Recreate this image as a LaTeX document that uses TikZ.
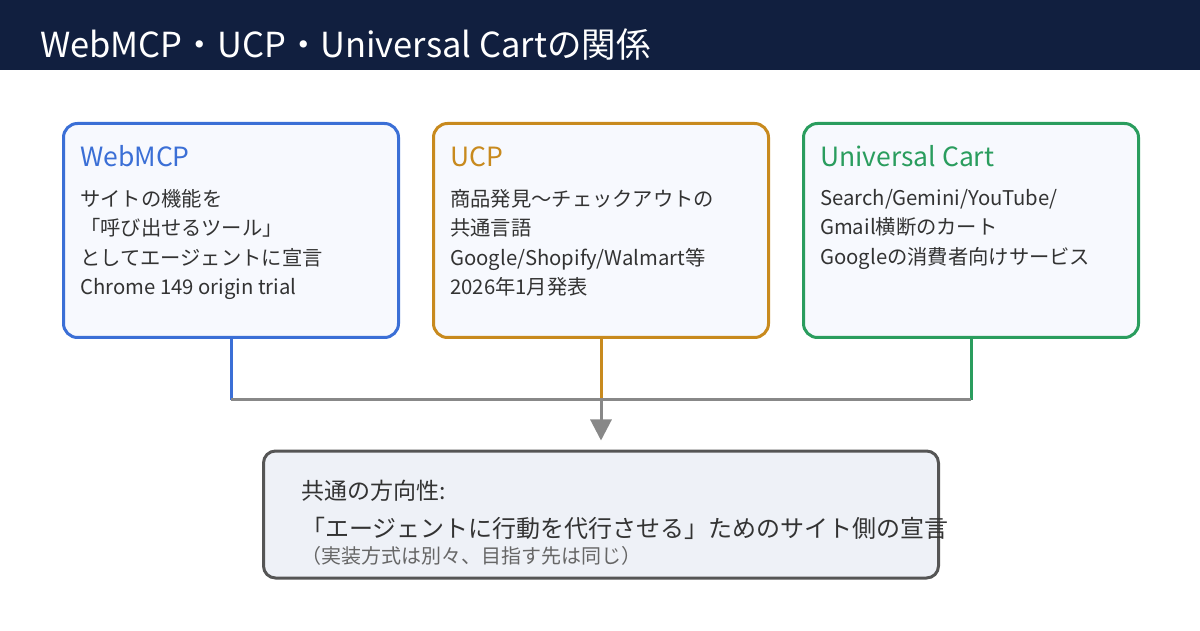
\documentclass[tikz,border=0pt]{standalone}
\usepackage{fontspec}
\setmainfont{Noto Sans CJK JP}
\usetikzlibrary{positioning, arrows.meta}
\definecolor{headnavy}{HTML}{111F3F}
\definecolor{webblue}{HTML}{3B6FD6}
\definecolor{ucpgold}{HTML}{C88A1E}
\definecolor{cartgreen}{HTML}{2A9D5E}
\definecolor{cardfill}{HTML}{F7F9FE}
\definecolor{goalfill}{HTML}{EEF1F7}
\definecolor{goalline}{HTML}{555555}
\definecolor{busgray}{HTML}{888888}
\definecolor{bodytext}{HTML}{333333}
\definecolor{notegray}{HTML}{666666}

\begin{document}
\begin{tikzpicture}[x=1pt, y=1pt, node distance=32pt]
  \tikzstyle{card}=[draw, line width=3pt, rounded corners=14pt, fill=cardfill, minimum width=335pt, minimum height=214pt, inner sep=0pt]
  \tikzstyle{cardtitle}=[anchor=base west, inner sep=0pt, font=\fontsize{26.5}{30}\selectfont]
  \tikzstyle{cardtext}=[anchor=north west, inner sep=0pt, align=left, text=bodytext, font=\fontsize{20.3}{29.5}\selectfont, execute at begin node=\strut]
  \tikzstyle{link}=[line width=3pt]
  \useasboundingbox (0,0) rectangle (1200,630);
  \node[fill=headnavy, anchor=north west, minimum width=1200pt, minimum height=70pt, inner sep=0pt] (bar) at (0,630) {};
  \node[anchor=base west, inner sep=0pt, text=white, font=\fontsize{34.5}{40}\selectfont] (heading) at (40,572) {WebMCP・UCP・Universal Cartの関係};

  \node[card, draw=webblue] (web) at (231,399.5) {};
  \node[card, draw=ucpgold, right=of web] (ucp) {};
  \node[card, draw=cartgreen, right=of ucp] (cart) {};

  \node[cardtitle, text=webblue] (webname) at ([xshift=18pt, yshift=-45pt]web.north west) {WebMCP};
  \node[cardtext] (webtext) at ([xshift=18pt, yshift=-67pt]web.north west)
    {サイトの機能を\\「呼び出せるツール」\\としてエージェントに宣言\\Chrome 149 origin trial};
  \node[cardtitle, text=ucpgold] (ucpname) at ([xshift=18pt, yshift=-45pt]ucp.north west) {UCP};
  \node[cardtext] (ucptext) at ([xshift=18pt, yshift=-67pt]ucp.north west)
    {商品発見〜チェックアウトの\\共通言語\\Google/Shopify/Walmart等\\2026年1月発表};
  \node[cardtitle, text=cartgreen] (cartname) at ([xshift=18pt, yshift=-45pt]cart.north west) {Universal Cart};
  \node[cardtext] (carttext) at ([xshift=18pt, yshift=-67pt]cart.north west)
    {Search/Gemini/YouTube/\\Gmail横断のカート\\Googleの消費者向けサービス};

  \node[draw=goalline, fill=goalfill, line width=3pt, rounded corners=12pt, minimum width=675pt, minimum height=127pt, inner sep=0pt] (goal) at (601,115.5) {};
  \node[anchor=base west, inner sep=0pt, text=bodytext, font=\fontsize{23}{28}\selectfont] (goalhead) at ([xshift=39pt, yshift=-50pt]goal.north west) {共通の方向性:};
  \node[anchor=base west, inner sep=0pt, text=bodytext, font=\fontsize{24}{29}\selectfont] (goalmain) at ([xshift=39pt, yshift=-87.5pt]goal.north west) {「エージェントに行動を代行させる」ためのサイト側の宣言};
  \node[anchor=base west, inner sep=0pt, text=notegray, font=\fontsize{20}{24}\selectfont] (goalnote) at ([xshift=39pt, yshift=-114pt]goal.north west) {（実装方式は別々、目指す先は同じ）};

  % connectors into the common box
  \coordinate (bus) at (601,230);
  \draw[link, webblue] (web.south) -- (web.south |- bus);
  \draw[link, ucpgold] (ucp.south) -- (bus);
  \draw[link, cartgreen] (cart.south) -- (cart.south |- bus);
  \draw[link, busgray] (web.south |- bus) -- (cart.south |- bus);
  \draw[link, busgray, -{Triangle[length=21pt, width=21pt]}, shorten >=9pt] (bus) -- (goal.north);
\end{tikzpicture}
\end{document}
